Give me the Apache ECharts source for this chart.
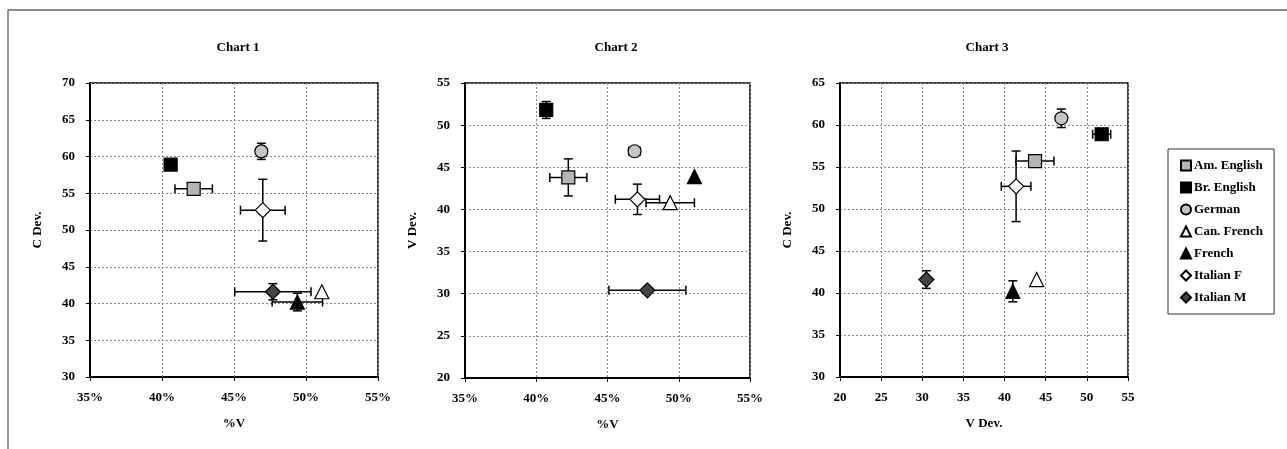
<!DOCTYPE html>
<html>
<head>
<meta charset="utf-8">
<script src="https://cdn.jsdelivr.net/npm/echarts@6/dist/echarts.min.js"></script>
<style>
  html, body { margin: 0; padding: 0; background: #fff; }
  #main { width: 1287px; height: 449px; }
</style>
</head>
<body>
<div id="main"></div>
<script>
// series names (legend order)
const languages = ['Am. English', 'Br. English', 'German', 'Can. French', 'French', 'Italian F', 'Italian M'];

// Chart 1: %V vs C Dev.
const pctV1 = [42.2, 40.6, 46.9, 51.1, 49.4, 47.0, 47.7];
const cDev1 = [55.6, 58.9, 60.7, 41.6, 40.2, 52.7, 41.6];
const pctVErr1 = [1.3, 0, 0, 0, 1.75, 1.55, 2.65];
const cDevErr1 = [0, 0, 1.1, 0, 1.2, 4.2, 1.1];

// Chart 2: %V vs V Dev.
const pctV2 = [42.25, 40.7, 46.9, 49.4, 51.1, 47.1, 47.8];
const vDev2 = [43.8, 51.8, 46.9, 40.8, 43.9, 41.2, 30.4];
const pctVErr2 = [1.3, 0, 0.4, 1.7, 0, 1.55, 2.7];
const vDevErr2 = [2.2, 1.0, 0, 0, 0, 1.8, 0];

// Chart 3: V Dev. vs C Dev.
const vDev3 = [43.7, 51.8, 46.9, 43.9, 41.0, 41.4, 30.5];
const cDev3 = [55.7, 58.9, 60.8, 41.6, 40.2, 52.7, 41.6];
const vDevErr3 = [2.3, 1.1, 0, 0, 0, 1.8, 0];
const cDevErr3 = [0, 0, 1.1, 0, 1.25, 4.2, 1.05];

const chartTitles = ['Chart 1', 'Chart 2', 'Chart 3'];
const xNames = ['%V', '%V', 'V Dev.'];
const yNames = ['C Dev.', 'V Dev.', 'C Dev.'];

const font = 'Liberation Serif';

// marker look for each language
const markers = [
  { symbol: 'rect', size: 13, color: '#b4b4b4' },
  { symbol: 'rect', size: 13, color: '#000000' },
  { symbol: 'circle', size: 13, color: '#c4c4c4' },
  { symbol: 'triangle', size: 14, color: '#ffffff' },
  { symbol: 'triangle', size: 14, color: '#000000' },
  { symbol: 'diamond', size: 15, color: '#ffffff' },
  { symbol: 'diamond', size: 15, color: '#444444' }
];

const charts = [
  { x: pctV1, y: cDev1, xe: pctVErr1, ye: cDevErr1 },
  { x: pctV2, y: vDev2, xe: pctVErr2, ye: vDevErr2 },
  { x: vDev3, y: cDev3, xe: vDevErr3, ye: cDevErr3 }
];

const gridBoxes = [
  { left: 90, top: 83, width: 288, height: 294 },
  { left: 465, top: 83, width: 285, height: 295 },
  { left: 840, top: 83, width: 288, height: 294 }
];
const titleCenters = [233, 611, 982];

const xRanges = [[35, 55], [35, 55], [20, 55]];
const yRanges = [[30, 70], [20, 55], [30, 65]];

let chartDom = document.getElementById('main');
let myChart = echarts.init(chartDom);

const labelStyle = { color: '#000', fontFamily: font, fontWeight: 'bold', fontSize: 13 };

function errorBars(params, api) {
  const x = api.value(0), y = api.value(1), xe = api.value(2), ye = api.value(3);
  const st = { stroke: '#000', lineWidth: 1.5 };
  const cap = 4.5;
  const children = [];
  if (xe > 0) {
    const a = api.coord([x - xe, y]), b = api.coord([x + xe, y]);
    children.push({ type: 'line', shape: { x1: a[0], y1: a[1], x2: b[0], y2: b[1] }, style: st });
    children.push({ type: 'line', shape: { x1: a[0], y1: a[1] - cap, x2: a[0], y2: a[1] + cap }, style: st });
    children.push({ type: 'line', shape: { x1: b[0], y1: b[1] - cap, x2: b[0], y2: b[1] + cap }, style: st });
  }
  if (ye > 0) {
    const a = api.coord([x, y - ye]), b = api.coord([x, y + ye]);
    children.push({ type: 'line', shape: { x1: a[0], y1: a[1], x2: b[0], y2: b[1] }, style: st });
    children.push({ type: 'line', shape: { x1: a[0] - cap, y1: a[1], x2: a[0] + cap, y2: a[1] }, style: st });
    children.push({ type: 'line', shape: { x1: b[0] - cap, y1: b[1], x2: b[0] + cap, y2: b[1] }, style: st });
  }
  return { type: 'group', children: children };
}

let grid = [], xAxis = [], yAxis = [], title = [], series = [];

charts.forEach((c, ci) => {
  grid.push(Object.assign({ show: true, borderColor: '#000', borderWidth: 1.5, backgroundColor: '#fff' }, gridBoxes[ci]));
  title.push({
    text: chartTitles[ci], left: titleCenters[ci], top: 36, textAlign: 'center',
    textStyle: { fontFamily: font, fontWeight: 'bold', fontSize: 13, color: '#000' }
  });
  xAxis.push({
    gridIndex: ci, type: 'value', min: xRanges[ci][0], max: xRanges[ci][1], interval: 5,
    name: xNames[ci], nameLocation: 'middle', nameGap: 40, nameTextStyle: labelStyle,
    axisLine: { show: true, onZero: false, lineStyle: { color: '#000', width: 2 } },
    axisTick: { show: true, inside: false, length: 4, lineStyle: { color: '#000' } },
    axisLabel: Object.assign({ margin: 14, formatter: ci < 2 ? '{value}%' : '{value}' }, labelStyle),
    splitLine: { show: true, lineStyle: { color: '#8a8a8a', type: [2, 2], width: 1 } }
  });
  yAxis.push({
    gridIndex: ci, type: 'value', min: yRanges[ci][0], max: yRanges[ci][1], interval: 5,
    name: yNames[ci], nameLocation: 'middle', nameGap: 46, nameTextStyle: labelStyle,
    axisLine: { show: true, onZero: false, lineStyle: { color: '#000', width: 2 } },
    axisTick: { show: true, inside: false, length: 4, lineStyle: { color: '#000' } },
    axisLabel: Object.assign({ margin: 15 }, labelStyle),
    splitLine: { show: true, lineStyle: { color: '#8a8a8a', type: [2, 2], width: 1 } }
  });

  series.push({
    type: 'custom', xAxisIndex: ci, yAxisIndex: ci, z: 1, silent: true,
    renderItem: errorBars,
    encode: { x: 0, y: 1 },
    data: c.x.map((v, i) => [v, c.y[i], c.xe[i], c.ye[i]])
  });

  languages.forEach((name, i) => {
    const m = markers[i];
    series.push({
      name: name, type: 'scatter', xAxisIndex: ci, yAxisIndex: ci, z: 3,
      symbol: m.symbol, symbolSize: m.size,
      itemStyle: { color: m.color, borderColor: '#000', borderWidth: 1.2, opacity: 1 },
      data: [[c.x[i], c.y[i]]]
    });
  });
});

let option = {
  backgroundColor: '#fff',
  animation: false,
  title: title,
  grid: grid,
  xAxis: xAxis,
  yAxis: yAxis,
  legend: {
    data: languages,
    orient: 'vertical',
    left: 1168, top: 149,
    padding: [10, 11, 10, 12],
    itemGap: 9,
    itemWidth: 10, itemHeight: 10,
    borderColor: '#333', borderWidth: 1,
    backgroundColor: '#fff',
    selectedMode: false,
    textStyle: { fontFamily: font, fontWeight: 'bold', fontSize: 13, color: '#000', padding: [0, 0, 0, -2] }
  },
  graphic: [
    { type: 'line', shape: { x1: 8, y1: 10, x2: 1287, y2: 10 }, style: { stroke: '#666', lineWidth: 1.5 } },
    { type: 'line', shape: { x1: 8, y1: 10, x2: 8, y2: 449 }, style: { stroke: '#777', lineWidth: 1.5 } }
  ],
  series: series
};

myChart.setOption(option);
</script>
</body>
</html>
